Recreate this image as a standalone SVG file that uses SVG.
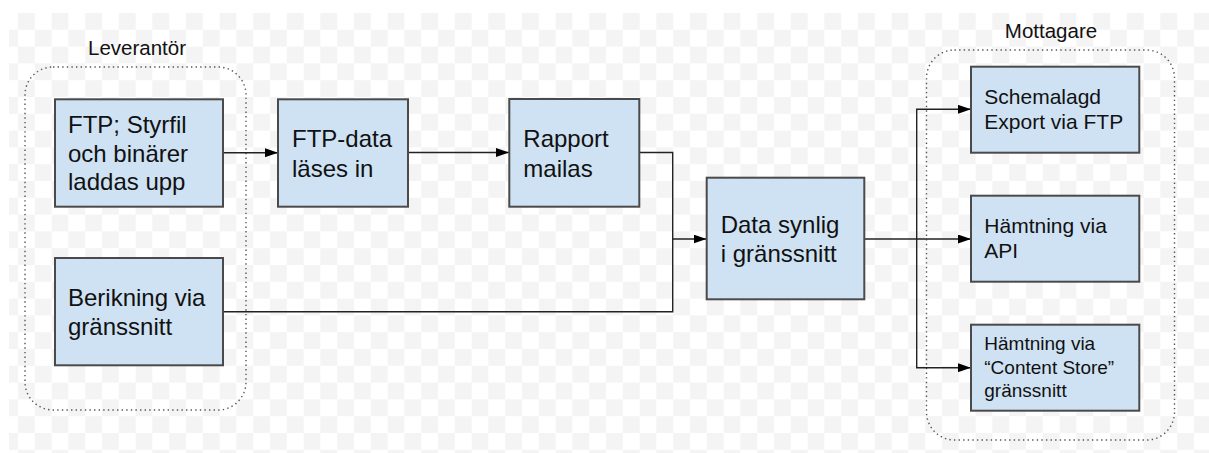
<svg xmlns="http://www.w3.org/2000/svg" width="1209" height="453" viewBox="0 0 1209 453">
<defs>
<pattern id="checker" x="1.2" y="13" width="33.6" height="33.6" patternUnits="userSpaceOnUse">
<rect x="16.8" y="0" width="16.8" height="16.8" fill="#f4f4f4"/>
<rect x="0" y="16.8" width="16.8" height="16.8" fill="#f4f4f4"/>
</pattern>
<marker id="arrow" viewBox="0 0 13 9" refX="13" refY="4.5" markerWidth="13" markerHeight="9" markerUnits="userSpaceOnUse" orient="auto">
<path d="M0,0 L13,4.5 L0,9 Z" fill="#000"/>
</marker>
</defs>
<style>
.node rect{fill:#cfe2f3;stroke:#4a4a4a;stroke-width:2}
.node text{font-family:"Liberation Sans",Arial,sans-serif;font-size:24px;fill:#111}
.node text.m{font-size:21px}
.node text.s{font-size:19px}
.group rect{fill:none;stroke:#555;stroke-width:1.4;stroke-dasharray:1.4 3.2}
.group text{font-family:"Liberation Sans",Arial,sans-serif;font-size:20.5px;fill:#111;text-anchor:middle}
.conn path{fill:none;stroke:#222;stroke-width:1.4}
</style>
<rect x="0" y="0" width="1209" height="453" fill="#ffffff"/>
<rect x="9" y="13" width="1200" height="440" fill="url(#checker)"/>

<g id="leverantor" class="group">
<rect x="25" y="67" width="221" height="343" rx="28" ry="28"/>
<text x="137" y="55">Leverantör</text>
</g>
<g id="mottagare" class="group">
<rect x="926.5" y="50" width="248" height="390" rx="28" ry="28"/>
<text x="1051" y="38">Mottagare</text>
</g>

<g id="connectors" class="conn">
<path d="M223,152.7 H278" marker-end="url(#arrow)"/>
<path d="M408,152.5 H509" marker-end="url(#arrow)"/>
<path d="M639,152.5 H672.7 V239 H706.5" marker-end="url(#arrow)"/>
<path d="M223,311.7 H672.7 V239"/>
<path d="M864,239 H971" marker-end="url(#arrow)"/>
<path d="M916.7,239 V109.3 H971" marker-end="url(#arrow)"/>
<path d="M916.7,239 V367.7 H971" marker-end="url(#arrow)"/>
</g>

<g id="n-ftp" class="node">
<rect x="55" y="99.3" width="168" height="107.4"/>
<text x="68" y="132.7">FTP; Styrfil</text>
<text x="68" y="161.5">och binärer</text>
<text x="68" y="190">laddas upp</text>
</g>
<g id="n-ftpdata" class="node">
<rect x="278" y="99.3" width="130" height="107.4"/>
<text x="292" y="147.3">FTP-data</text>
<text x="292" y="176.5">läses in</text>
</g>
<g id="n-rapport" class="node">
<rect x="509.3" y="99" width="130" height="107.7"/>
<text x="523.3" y="146.7">Rapport</text>
<text x="523.3" y="176.5">mailas</text>
</g>
<g id="n-berikning" class="node">
<rect x="55" y="258" width="168" height="107.3"/>
<text x="68" y="306">Berikning via</text>
<text x="68" y="335">gränssnitt</text>
</g>
<g id="n-datasynlig" class="node">
<rect x="706.7" y="177.7" width="157.6" height="121.6"/>
<text x="720.7" y="232.7">Data synlig</text>
<text x="720.7" y="261.7">i gränssnitt</text>
</g>
<g id="n-schemalagd" class="node">
<rect x="971" y="66.7" width="168.3" height="86"/>
<text class="m" x="984.3" y="104.3">Schemalagd</text>
<text class="m" x="984.3" y="129.3">Export via FTP</text>
</g>
<g id="n-api" class="node">
<rect x="971" y="195.7" width="168.3" height="86"/>
<text class="m" x="984.3" y="233.3">Hämtning via</text>
<text class="m" x="984.3" y="258.3">API</text>
</g>
<g id="n-contentstore" class="node">
<rect x="971" y="324.7" width="168.3" height="86"/>
<text class="s" x="984.3" y="350">Hämtning via</text>
<text class="s" x="984.3" y="374">“Content Store”</text>
<text class="s" x="984.3" y="397.3">gränssnitt</text>
</g>
</svg>
